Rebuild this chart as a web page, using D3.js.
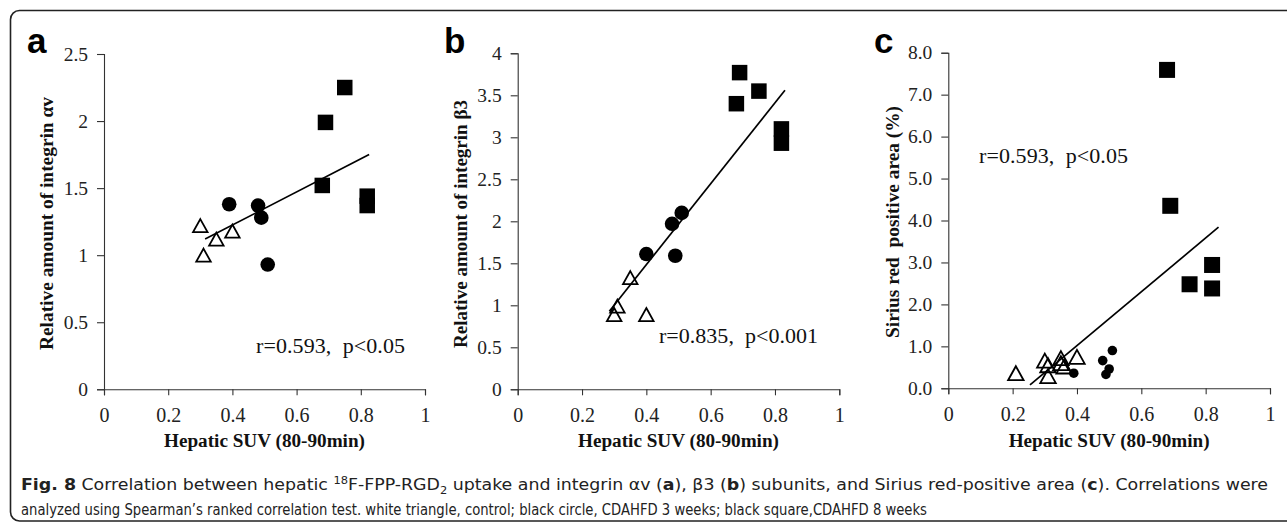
<!DOCTYPE html>
<html><head><meta charset="utf-8">
<script src="https://cdn.jsdelivr.net/npm/d3@7"></script>
<style>
html,body{margin:0;padding:0;background:#fff;}
svg{display:block;}
text{white-space:pre;}
</style></head>
<body><svg id="chart" width="1287" height="522"></svg>
<script>
// ---------- data ----------
const xTicks = [0, 0.2, 0.4, 0.6, 0.8, 1];
const yTicksA = [0, 0.5, 1, 1.5, 2, 2.5];
const yTicksB = [0, 0.5, 1, 1.5, 2, 2.5, 3, 3.5, 4];
const yTicksC = [0, 1, 2, 3, 4, 5, 6, 7, 8];

// panel a: integrin αv
const aTriX = [0.30, 0.35, 0.40, 0.31];
const aTriY = [1.22, 1.12, 1.18, 1.00];
const aCirX = [0.39, 0.48, 0.49, 0.51];
const aCirY = [1.38, 1.37, 1.28, 0.93];
const aSqX = [0.75, 0.69, 0.68, 0.82, 0.82];
const aSqY = [2.25, 1.99, 1.52, 1.44, 1.37];
const aTrendX = [0.315, 0.826];
const aTrendY = [1.12, 1.75];

// panel b: integrin β3
const bTriX = [0.35, 0.31, 0.30, 0.40];
const bTriY = [1.33, 0.99, 0.89, 0.89];
const bCirX = [0.51, 0.48, 0.40, 0.49];
const bCirY = [2.10, 1.97, 1.61, 1.59];
const bSqX = [0.69, 0.75, 0.68, 0.82, 0.82];
const bSqY = [3.77, 3.55, 3.40, 3.10, 2.93];
const bTrendX = [0.285, 0.831];
const bTrendY = [0.93, 3.56];

// panel c: Sirius red positive area
const cTriX = [0.21, 0.30, 0.31, 0.31, 0.35, 0.35, 0.36, 0.40];
const cTriY = [0.36, 0.66, 0.55, 0.29, 0.72, 0.60, 0.52, 0.75];
const cCirX = [0.39, 0.51, 0.48, 0.50, 0.49];
const cCirY = [0.36, 0.90, 0.66, 0.46, 0.33];
const cSqX = [0.68, 0.69, 0.82, 0.75, 0.82];
const cSqY = [7.59, 4.35, 2.94, 2.48, 2.38];
const cTrendX = [0.254, 0.84];
const cTrendY = [0.08, 3.84];

const panelLetters = ["a", "b", "c"];
const yTitles = ["Relative amount of integrin αv", "Relative amount of integrin β3", "Sirius red  positive area (%)"];
const xTitle = "Hepatic SUV (80-90min)";
const statTexts = ["r=0.593,  p<0.05", "r=0.835,  p<0.001", "r=0.593,  p<0.05"];

// ---------- drawing ----------
const svg = d3.select("#chart");
const SERIF = "'Liberation Serif','Times New Roman',serif";

// outer rounded border
svg.append("rect").attr("x", 10.5).attr("y", 10.5).attr("width", 1320).attr("height", 510.5)
  .attr("rx", 9).attr("fill", "none").attr("stroke", "#222").attr("stroke-width", 1.6);

const panels = [
  {l: 104, r: 425, t: 54, b: 389.3, ymax: 2.5, yTicks: yTicksA, fmt: d3.format("~g"),
   tri: [aTriX, aTriY], cir: [aCirX, aCirY], sq: [aSqX, aSqY], trend: [aTrendX, aTrendY],
   cirR: 7.3, sqS: 15.5, triW: 14.5, triH: 13, letterX: 27, titleX: 46, titleLen: 253, titleC: 223.5,
   stat: {x: 256, y: 353, w: 149}},
  {l: 517.7, r: 839.3, t: 53.3, b: 389.3, ymax: 4, yTicks: yTicksB, fmt: d3.format("~g"),
   tri: [bTriX, bTriY], cir: [bCirX, bCirY], sq: [bSqX, bSqY], trend: [bTrendX, bTrendY],
   cirR: 7.3, sqS: 15.5, triW: 14.5, triH: 13, letterX: 444, titleX: 460, titleLen: 248, titleC: 224,
   stat: {x: 659, y: 343, w: 159}},
  {l: 948.3, r: 1270, t: 52.7, b: 388.3, ymax: 8, yTicks: yTicksC, fmt: d3.format(".1f"),
   tri: [cTriX, cTriY], cir: [cCirX, cCirY], sq: [cSqX, cSqY], trend: [cTrendX, cTrendY],
   cirR: 4.8, sqS: 16, triW: 15.5, triH: 14, letterX: 874, titleX: 892, titleLen: 232, titleC: 222,
   stat: {x: 979, y: 163, w: 149}}
];

panels.forEach((p, i) => {
  const x = d3.scaleLinear().domain([0, 1]).range([p.l, p.r]);
  const y = d3.scaleLinear().domain([0, p.ymax]).range([p.b, p.t]);
  const g = svg.append("g");

  // axes
  const xAxis = d3.axisBottom(x).tickValues(xTicks).tickFormat(d3.format("~g")).tickSizeOuter(0).tickSize(6).tickPadding(8);
  const gx = g.append("g").attr("transform", `translate(0,${p.b})`).call(xAxis);
  const yAxis = d3.axisLeft(y).tickValues(p.yTicks).tickFormat(p.fmt).tickSizeOuter(0).tickSize(7).tickPadding(9);
  const gy = g.append("g").attr("transform", `translate(${p.l},0)`).call(yAxis);
  [gx, gy].forEach(a => {
    a.select(".domain").attr("stroke", "#333").attr("stroke-width", 1.1);
    a.selectAll(".tick line").attr("stroke", "#333").attr("stroke-width", 1.1);
    a.selectAll(".tick text").attr("fill", "#222").style("font-family", SERIF).style("font-size", "19.5px");
  });
  gx.selectAll(".tick text").attr("dy", "0.95em").style("font-size", "20px");

  // trend line
  const tl = d3.line().x(d => x(d[0])).y(d => y(d[1]));
  g.append("path").datum(d3.zip(p.trend[0], p.trend[1])).attr("d", tl)
    .attr("fill", "none").attr("stroke", "#000").attr("stroke-width", 1.7);

  // triangles (open)
  const triPath = `M0,${-p.triH / 2}L${p.triW / 2},${p.triH / 2}L${-p.triW / 2},${p.triH / 2}Z`;
  g.selectAll(".tri").data(d3.zip(p.tri[0], p.tri[1])).join("path")
    .attr("transform", d => `translate(${x(d[0])},${y(d[1])})`).attr("d", triPath)
    .attr("fill", "none").attr("stroke", "#000").attr("stroke-width", 1.8);
  // circles
  g.selectAll(".cir").data(d3.zip(p.cir[0], p.cir[1])).join("circle")
    .attr("cx", d => x(d[0])).attr("cy", d => y(d[1])).attr("r", p.cirR).attr("fill", "#000");
  // squares
  g.selectAll(".sq").data(d3.zip(p.sq[0], p.sq[1])).join("rect")
    .attr("x", d => x(d[0]) - p.sqS / 2).attr("y", d => y(d[1]) - p.sqS / 2)
    .attr("width", p.sqS).attr("height", p.sqS).attr("fill", "#000");

  // stat text
  g.append("text").attr("x", p.stat.x).attr("y", p.stat.y).text(statTexts[i])
    .attr("textLength", p.stat.w).attr("lengthAdjust", "spacing")
    .style("font-family", SERIF).style("font-size", "22px").attr("fill", "#111");

  // axis titles
  g.append("text").attr("transform", `translate(${p.titleX},${p.titleC}) rotate(-90)`)
    .attr("text-anchor", "middle").attr("dy", "0.35em").text(yTitles[i])
    .attr("textLength", p.titleLen).attr("lengthAdjust", "spacingAndGlyphs")
    .style("font-family", SERIF).style("font-size", "19px").style("font-weight", "bold").attr("fill", "#111");
  g.append("text").attr("x", (p.l + p.r) / 2).attr("y", 447).attr("text-anchor", "middle").text(xTitle)
    .attr("textLength", 201).attr("lengthAdjust", "spacingAndGlyphs")
    .style("font-family", SERIF).style("font-size", "18.5px").style("font-weight", "bold").attr("fill", "#111");

  // panel letter
  g.append("text").attr("x", p.letterX).attr("y", 53).text(panelLetters[i])
    .style("font-family", "'Liberation Sans',Arial,sans-serif").style("font-size", "35px").style("font-weight", "bold").attr("fill", "#000");
});

// caption
const CAP = "'DejaVu Sans Condensed','Liberation Sans Narrow','Open Sans',sans-serif";
const cap1 = svg.append("text").attr("x", 21).attr("y", 490).attr("textLength", 1247).attr("lengthAdjust", "spacingAndGlyphs")
  .style("font-family", CAP).style("font-stretch", "condensed").style("font-size", "16px").attr("fill", "#222");
const parts1 = [
  ["Fig. 8", "b"], [" Correlation between hepatic ", ""], ["18", "sup"], ["F-FPP-RGD", ""], ["2", "sub"],
  [" uptake and integrin αv (", ""], ["a", "b"], ["), β3 (", ""], ["b", "b"], [") subunits, and Sirius red-positive area (", ""],
  ["c", "b"], ["). Correlations were", ""]
];
parts1.forEach(([t, s]) => {
  const ts = cap1.append("tspan").text(t);
  if (s === "b") ts.style("font-weight", "bold");
  if (s === "sup") ts.attr("baseline-shift", "6").style("font-size", "10.5px");
  if (s === "sub") ts.attr("baseline-shift", "-4").style("font-size", "10.5px");
});
svg.append("text").attr("x", 21).attr("y", 515).attr("textLength", 906).attr("lengthAdjust", "spacingAndGlyphs")
  .style("font-family", CAP).style("font-stretch", "condensed").style("font-size", "16px").attr("fill", "#222")
  .text("analyzed using Spearman’s ranked correlation test. white triangle, control; black circle, CDAHFD 3 weeks; black square,CDAHFD 8 weeks");
</script></body></html>
